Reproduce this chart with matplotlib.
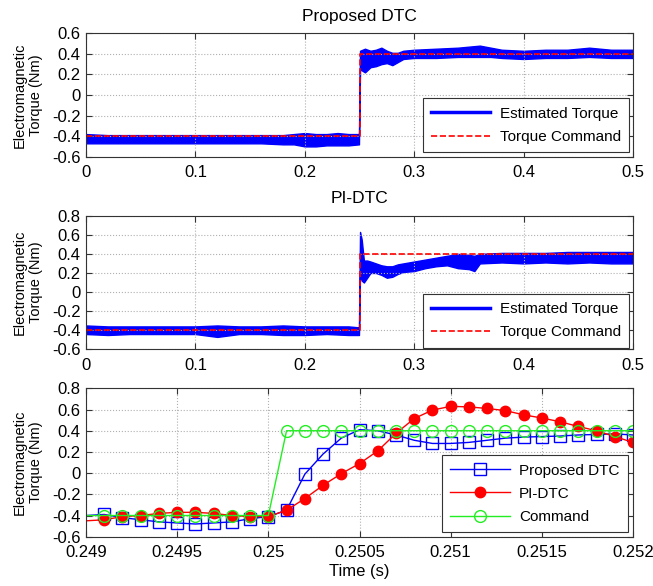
import numpy as np
import matplotlib
matplotlib.use("Agg")
import matplotlib.pyplot as plt
from matplotlib.lines import Line2D

plt.rcParams["font.family"] = ["Liberation Sans", "DejaVu Sans"]
plt.rcParams["axes.unicode_minus"] = False

# --- Proposed DTC: envelope of the estimated torque band
prop_t = [0, 0.02, 0.04, 0.06, 0.08, 0.10, 0.12, 0.14, 0.16, 0.18, 0.19, 0.20,
          0.21, 0.22, 0.23, 0.24, 0.2495,
          0.2505, 0.255, 0.26, 0.265, 0.27, 0.275, 0.28, 0.285, 0.29, 0.30,
          0.32, 0.34, 0.36, 0.37, 0.38, 0.40, 0.42, 0.44, 0.46, 0.48, 0.50]
prop_hi = [-0.38, -0.39, -0.39, -0.39, -0.39, -0.39, -0.39, -0.39, -0.39, -0.39, -0.38, -0.37,
           -0.38, -0.38, -0.37, -0.38, -0.38,
           0.43, 0.45, 0.43, 0.44, 0.46, 0.43, 0.41, 0.41, 0.43, 0.44,
           0.45, 0.46, 0.48, 0.46, 0.44, 0.43, 0.44, 0.44, 0.46, 0.44, 0.44]
prop_lo = [-0.47, -0.47, -0.47, -0.47, -0.47, -0.47, -0.47, -0.47, -0.47, -0.48, -0.48, -0.50,
           -0.50, -0.49, -0.49, -0.49, -0.48,
           0.25, 0.22, 0.27, 0.28, 0.30, 0.31, 0.29, 0.32, 0.35, 0.36,
           0.36, 0.37, 0.37, 0.37, 0.36, 0.35, 0.36, 0.36, 0.37, 0.36, 0.36]

# --- PI-DTC envelope
pi_t = [0, 0.02, 0.04, 0.06, 0.08, 0.10, 0.12, 0.14, 0.16, 0.18, 0.20, 0.22, 0.24, 0.2495,
        0.2505, 0.252, 0.254, 0.257, 0.26, 0.265, 0.27, 0.275, 0.28, 0.285, 0.29, 0.30,
        0.31, 0.32, 0.33, 0.34, 0.35, 0.355, 0.36, 0.38, 0.40, 0.42, 0.44, 0.46, 0.48, 0.50]
pi_hi = [-0.35, -0.36, -0.36, -0.36, -0.36, -0.36, -0.35, -0.36, -0.36, -0.35, -0.36, -0.36, -0.36, -0.37,
         0.63, 0.55, 0.33, 0.33, 0.32, 0.30, 0.28, 0.27, 0.27, 0.29, 0.30, 0.32,
         0.34, 0.36, 0.38, 0.40, 0.39, 0.38, 0.40, 0.41, 0.41, 0.41, 0.42, 0.42, 0.42, 0.42]
pi_lo = [-0.44, -0.45, -0.44, -0.44, -0.44, -0.44, -0.47, -0.44, -0.44, -0.45, -0.45, -0.44, -0.45, -0.45,
         0.20, 0.12, 0.10, 0.15, 0.20, 0.20, 0.18, 0.15, 0.16, 0.19, 0.21, 0.22,
         0.25, 0.27, 0.28, 0.25, 0.24, 0.22, 0.30, 0.31, 0.30, 0.31, 0.30, 0.31, 0.30, 0.30]

# torque command (step at 0.25 s)
cmd_t = [0, 0.25, 0.25, 0.5]
cmd_v = [-0.4, -0.4, 0.4, 0.4]

# --- zoom around the step
zoom_t = [0.2490, 0.2491, 0.2492, 0.2493, 0.2494, 0.2495, 0.2496, 0.2497, 0.2498, 0.2499,
          0.2500, 0.2501, 0.2502, 0.2503, 0.2504, 0.2505, 0.2506, 0.2507, 0.2508, 0.2509,
          0.2510, 0.2511, 0.2512, 0.2513, 0.2514, 0.2515, 0.2516, 0.2517, 0.2518, 0.2519, 0.2520]
zoom_prop = [-0.40, -0.39, -0.42, -0.44, -0.46, -0.47, -0.48, -0.47, -0.46, -0.43,
             -0.41, -0.35, -0.01, 0.18, 0.33, 0.41, 0.40, 0.36, 0.31, 0.28,
             0.28, 0.29, 0.31, 0.33, 0.34, 0.345, 0.35, 0.36, 0.365, 0.37, 0.36]
zoom_pi = [-0.45, -0.44, -0.41, -0.40, -0.38, -0.37, -0.37, -0.38, -0.40, -0.41,
           -0.41, -0.35, -0.24, -0.115, -0.005, 0.09, 0.21, 0.375, 0.515, 0.595,
           0.63, 0.625, 0.61, 0.59, 0.55, 0.52, 0.485, 0.44, 0.40, 0.345, 0.29]
zoom_cmd = [-0.4] * 11 + [0.4] * 20

top_xticks = [0, 0.1, 0.2, 0.3, 0.4, 0.5]
top_xlabels = ["0", "0.1", "0.2", "0.3", "0.4", "0.5"]
zoom_xticks = [0.249, 0.2495, 0.25, 0.2505, 0.251, 0.2515, 0.252]
zoom_xlabels = ["0.249", "0.2495", "0.25", "0.2505", "0.251", "0.2515", "0.252"]

BLUE = "#0000ff"
RED = "#ff0000"
GREEN = "#22ee22"


def style(ax, yticks):
    ax.set_yticks(yticks)
    ax.set_yticklabels(["0" if v == 0 else f"{v:g}" for v in yticks])
    ax.grid(True, linestyle=":", color="#b0b0b0", linewidth=0.8)
    ax.tick_params(direction="in", top=True, right=True, labelsize=12,
                   length=4, color="#333333")
    ax.tick_params(axis="x", pad=6)
    ax.tick_params(axis="y", pad=4)
    for s in ax.spines.values():
        s.set_color("#333333")
        s.set_linewidth(0.8)
    ax.set_ylabel("Electromagnetic\nTorque (Nm)", fontsize=10.5, linespacing=1.25)
    ax.yaxis.set_label_coords(-0.078, 0.5)


fig = plt.figure(figsize=(6.53, 5.86), dpi=100)
ax1 = fig.add_axes([0.1317, 0.7326, 0.8377, 0.2106])
ax2 = fig.add_axes([0.1317, 0.4039, 0.8377, 0.2280])
ax3 = fig.add_axes([0.1317, 0.0841, 0.8377, 0.2532])

band_handles = [Line2D([], [], color=BLUE, lw=2.5),
                Line2D([], [], color=RED, lw=1.2, ls="--")]
band_labels = ["Estimated Torque", "Torque Command"]
leg_kw = dict(fontsize=11, fancybox=False, framealpha=1, edgecolor="#333333",
              handlelength=3.9, handletextpad=0.6, labelspacing=0.6,
              borderpad=0.55, borderaxespad=0, loc="lower right")

# top: proposed DTC
ax1.fill_between(prop_t, prop_lo, prop_hi, color=BLUE, lw=1, edgecolor=BLUE)
ax1.plot(cmd_t, cmd_v, color=RED, ls="--", lw=1.2)
ax1.set_xlim(0, 0.5)
ax1.set_ylim(-0.6, 0.6)
ax1.set_xticks(top_xticks)
ax1.set_xticklabels(top_xlabels)
style(ax1, [0.6, 0.4, 0.2, 0, -0.2, -0.4, -0.6])
ax1.set_title("Proposed DTC", fontsize=12.5, pad=9)
leg = ax1.legend(band_handles, band_labels, bbox_to_anchor=(0.993, 0.035), **leg_kw)
leg.get_frame().set_linewidth(0.8)

# middle: PI-DTC
ax2.fill_between(pi_t, pi_lo, pi_hi, color=BLUE, lw=1, edgecolor=BLUE)
ax2.plot(cmd_t, cmd_v, color=RED, ls="--", lw=1.2)
ax2.set_xlim(0, 0.5)
ax2.set_ylim(-0.6, 0.8)
ax2.set_xticks(top_xticks)
ax2.set_xticklabels(top_xlabels)
style(ax2, [0.8, 0.6, 0.4, 0.2, 0, -0.2, -0.4, -0.6])
ax2.set_title("PI-DTC", fontsize=12.5, pad=9)
leg = ax2.legend(band_handles, band_labels, bbox_to_anchor=(0.993, 0.012), **leg_kw)
leg.get_frame().set_linewidth(0.8)

# bottom: zoom on the step
mk = slice(1, None)
ax3.plot(zoom_t, zoom_prop, color=BLUE, lw=1, marker="s", ms=8, mfc="none",
         mec=BLUE, mew=1, markevery=mk, label="Proposed DTC")
ax3.plot(zoom_t, zoom_pi, color=RED, lw=1, marker="o", ms=7.5, mfc=RED,
         mec=RED, markevery=mk, label="PI-DTC")
ax3.plot(zoom_t, zoom_cmd, color=GREEN, lw=1, marker="o", ms=8.5, mfc="none",
         mec=GREEN, mew=1, markevery=mk, label="Command")
ax3.set_xlim(0.249, 0.252)
ax3.set_ylim(-0.6, 0.8)
ax3.set_xticks(zoom_xticks)
ax3.set_xticklabels(zoom_xlabels)
style(ax3, [0.8, 0.6, 0.4, 0.2, 0, -0.2, -0.4, -0.6])
ax3.set_xlabel("Time (s)", fontsize=12, labelpad=3)
leg = ax3.legend(bbox_to_anchor=(0.991, 0.03), **leg_kw)
leg.get_frame().set_linewidth(0.8)

fig.savefig("out.png", dpi=100)
